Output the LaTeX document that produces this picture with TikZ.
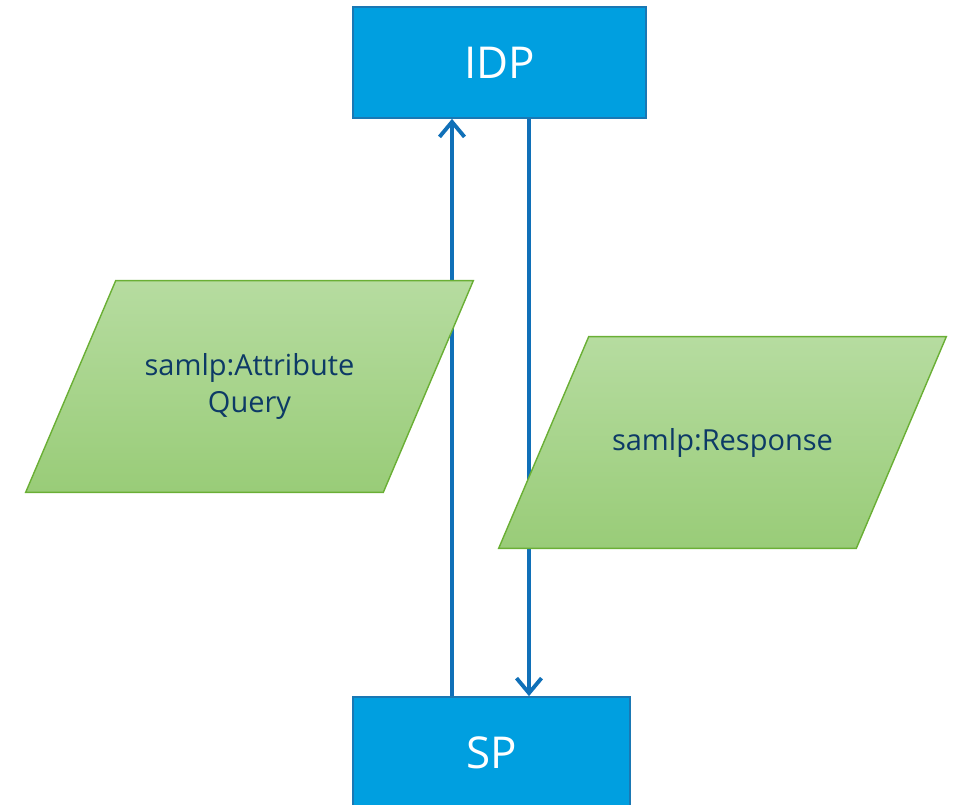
\documentclass[tikz,border=0pt]{standalone}
\usepackage{fontspec}
\setmainfont{Open Sans}
\usetikzlibrary{arrows.meta,positioning,calc,backgrounds}
\definecolor{boxblue}{HTML}{009FE0}
\definecolor{boxedge}{HTML}{1A78B4}
\definecolor{flowblue}{HTML}{1070B8}
\definecolor{msgtop}{HTML}{B6DCA0}
\definecolor{msgbot}{HTML}{99CC78}
\definecolor{msgedge}{HTML}{6AAF35}
\definecolor{msgtext}{HTML}{0D3A66}

\begin{document}
\begin{tikzpicture}[
    x=0.02cm, y=-0.02cm,
    party/.style={draw=boxedge,line width=1pt,fill=boxblue,text=white,
        minimum height=2.22cm,font=\fontsize{25}{30}\selectfont},
    msg/.style={text=msgtext,align=center,minimum height=4.22cm,minimum width=7.14cm,
        inner sep=0pt,font=\fontsize{16.5}{21}\selectfont},
    msgshape/.style={draw=msgedge,line width=0.8pt,top color=msgtop,bottom color=msgbot},
    flow/.style={-{Straight Barb[length=3mm,width=5mm]},line width=2.2pt,flowblue}
]
\useasboundingbox (0,0) rectangle (954,805);
\node[party,minimum width=5.86cm] (idp) at (499.5,62.5) {IDP};
\node[party,minimum width=5.54cm] (sp) at (491.5,752.5) {SP};
\node[msg] (query) at (249.5,386.5) {samlp:Attribute\\Query};
\node[msg] (response) at (722.5,442.5) {samlp:Response};

\coordinate (upx) at (452,0);
\coordinate (downx) at (529,0);
\begin{scope}[on background layer]
\draw[flow] (sp.north -| upx) -- (idp.south -| upx);
\draw[flow] (idp.south -| downx) -- (sp.north -| downx);
% slanted message boxes
\foreach \m in {query,response}
  \path[msgshape] ($(\m.north west)+(45,0)$) -- ($(\m.north east)+(45,0)$)
    -- ($(\m.south east)+(-45,0)$) -- ($(\m.south west)+(-45,0)$) -- cycle;
\end{scope}
\end{tikzpicture}
\end{document}
